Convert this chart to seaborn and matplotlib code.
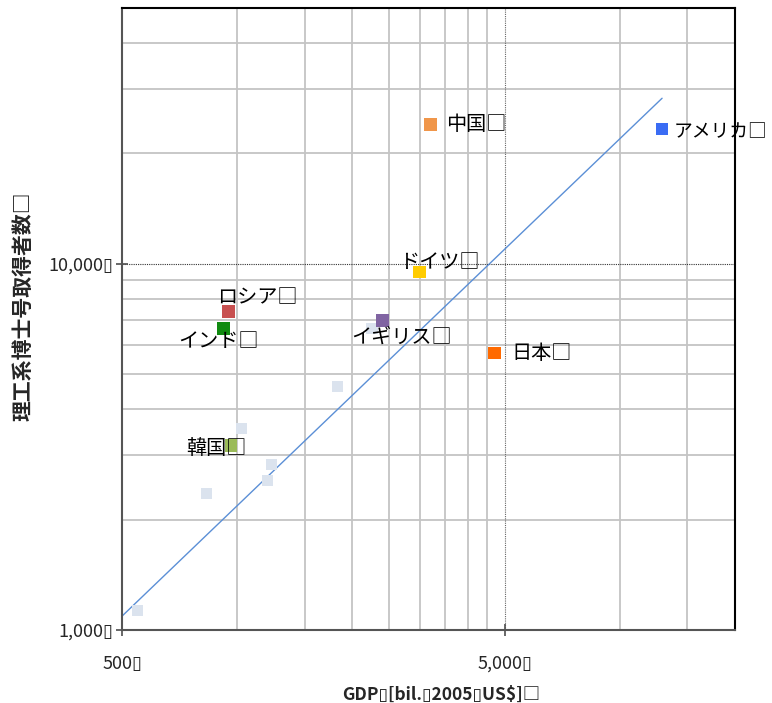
import numpy as np
import pandas as pd
import matplotlib
matplotlib.use("Agg")
import matplotlib.pyplot as plt
import matplotlib.ticker as mticker
import seaborn as sns

# highlighted countries
countries = ["中国", "アメリカ", "ドイツ", "ロシア", "インド", "イギリス", "日本", "韓国"]
gdp = [3200, 12900, 3000, 950, 920, 2400, 4700, 965]
phd = [24000, 23300, 9500, 7400, 6650, 7000, 5700, 3190]
colors = ["#f0964a", "#3a6cf4", "#ffcc00", "#c85050", "#108a10", "#8064a2", "#ff6a00", "#9bbb59"]

# other (unlabelled) countries
other_gdp = [1830, 1027, 1230, 1200, 830, 550, 2250]
other_phd = [4620, 3550, 2830, 2560, 2360, 1127, 6650]

# fitted trend line end points
trend_x = [500, 12900]
trend_y = [1090, 28300]

x_minor = [1000, 1500, 2000, 2500, 3000, 3500, 4000, 4500, 10000, 15000]
y_minor = [2000, 3000, 4000, 5000, 6000, 7000, 8000, 9000, 20000, 30000, 40000]

TOFU = "\u25af"

sns.set_theme(style="white")
plt.rcParams['font.family'] = ['Noto Sans CJK JP', 'DejaVu Sans']

fig = plt.figure(figsize=(7.72, 7.03), dpi=100)
ax = fig.add_axes([0.158, 0.104, 0.794, 0.885])

ax.set_xscale("log")
ax.set_yscale("log")
ax.set_xlim(500, 20000)
ax.set_ylim(1000, 50000)

for v in x_minor:
    ax.axvline(v, color="#c4c4c4", lw=1.3, zorder=0)
for v in y_minor:
    ax.axhline(v, color="#c4c4c4", lw=1.3, zorder=0)
ax.axvline(5000, color="#666666", lw=0.8, ls=(0, (1, 1)), zorder=0)
ax.axhline(10000, color="#333333", lw=0.8, ls=(0, (1, 1)), zorder=0)

sns.lineplot(x=trend_x, y=trend_y, ax=ax, color="#5b8fd6", lw=1, zorder=2)

sns.scatterplot(x=other_gdp, y=other_phd, ax=ax, marker="s", s=65,
                color="#dbe3ee", edgecolor="none", zorder=3)

df = pd.DataFrame({"country": countries, "gdp": gdp, "phd": phd})
sns.scatterplot(data=df, x="gdp", y="phd", hue="country", palette=colors,
                marker="s", s=80, edgecolor="none", legend=False, ax=ax, zorder=4)

offsets = {
    "中国": (11.5, 0, "left", 14.5),
    "アメリカ": (8, -1.5, "left", 13.5),
    "ドイツ": (14, 6.5, "center", 14.5),
    "ロシア": (-8, 10, "left", 14.5),
    "インド": (-3.6, -9.4, "center", 14.5),
    "イギリス": (13.7, -12, "center", 14.5),
    "日本": (12, 0, "left", 14.5),
    "韓国": (-10.8, -2, "center", 14.5),
}
for c, x, y in zip(countries, gdp, phd):
    dx, dy, ha, fs = offsets[c]
    ax.annotate(c + "□", (x, y), xytext=(dx, dy), textcoords="offset points",
                ha=ha, va="center", fontsize=fs, color="black", zorder=5)

ax.xaxis.set_major_locator(mticker.FixedLocator([500, 5000]))
ax.yaxis.set_major_locator(mticker.FixedLocator([1000, 10000]))
ax.xaxis.set_minor_locator(mticker.NullLocator())
ax.yaxis.set_minor_locator(mticker.NullLocator())
ax.set_xticklabels(["500" + TOFU, "5,000" + TOFU])
ax.set_yticklabels(["1,000" + TOFU, "10,000" + TOFU])
ax.tick_params(axis="x", direction="inout", length=8, pad=14, labelsize=13, color="#555555")
ax.tick_params(axis="y", direction="inout", length=8, pad=2, labelsize=13, color="#555555")
ax.tick_params(bottom=True, left=True)

ax.set_xlabel("GDP" + TOFU + "[bil." + TOFU + "2005" + TOFU + "US$]□",
              fontsize=12.5, fontweight="bold")
ax.xaxis.set_label_coords(0.52, -0.09)
ax.set_ylabel("理工系博士号取得者数□", fontsize=15, fontweight="bold")
ax.yaxis.set_label_coords(-0.145, 0.52)

for s in ["left", "bottom"]:
    ax.spines[s].set_color("#555555")
    ax.spines[s].set_linewidth(1.5)
for s in ["top", "right"]:
    ax.spines[s].set_color("black")
    ax.spines[s].set_linewidth(1.5)

fig.savefig("out.png", dpi=100)
